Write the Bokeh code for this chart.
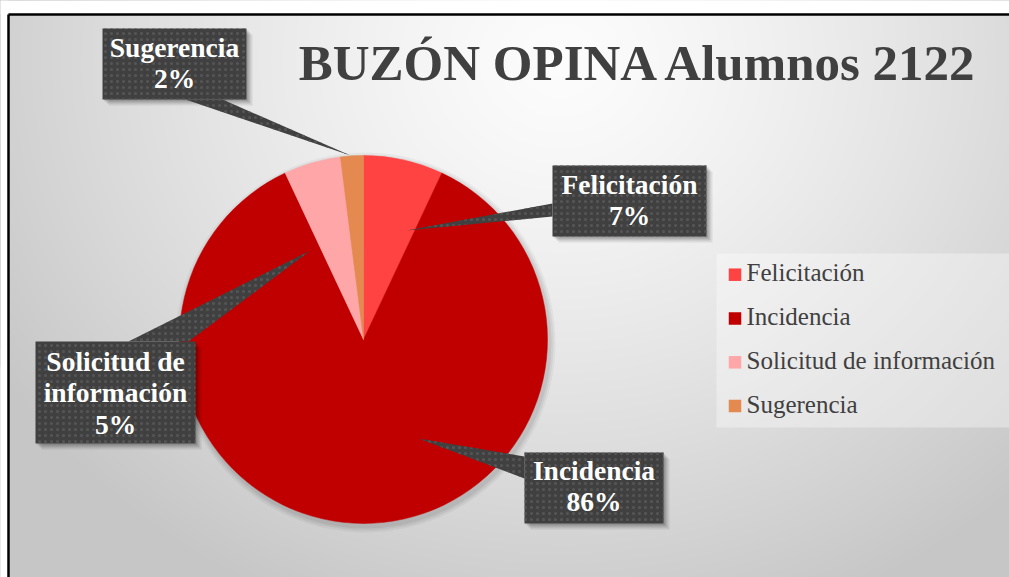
import numpy as np
from bokeh.plotting import figure
from bokeh.models import Range1d, ColumnDataSource
from bokeh.core.properties import value
from bokeh.embed import file_html
from bokeh.resources import INLINE

# ---------------- data ----------------
title = "BUZÓN OPINA Alumnos 2122"
categories = ["Felicitación", "Incidencia", "Solicitud de información", "Sugerencia"]
counts = [7, 86, 5, 2]
colors = ["#FF4343", "#C00000", "#FFA6A8", "#E4894F"]
label_lines = [["Felicitación"], ["Incidencia"], ["Solicitud de", "información"], ["Sugerencia"]]

# ---------------- layout (screen px) ----------------
W, H = 1009, 577
def Y(s):
    return H - s

FONT = value("Liberation Serif")
BASE_SHIFT = 0.37  # em; raise text so its baseline lands where measured

p = figure(width=W, height=H, x_range=Range1d(0, W), y_range=Range1d(0, H),
           output_backend="svg", toolbar_location=None, min_border=0,
           x_axis_location=None, y_axis_location=None)
p.grid.visible = False
p.outline_line_color = None
p.background_fill_color = "#c6c6c6"
p.border_fill_color = "white"

# radial background gradient built from stacked ellipses
x0, top0 = 8, 14
gcx, gcy = 560, 60
levels = np.arange(199, 253)
radii = 660 * ((252 - levels + 0.5) / 54.0) ** (1 / 1.3)
gcol = ["#%02x%02x%02x" % (int(lv), int(lv), int(lv)) for lv in levels]
p.ellipse(x=[gcx] * len(levels), y=[Y(gcy)] * len(levels), width=2 * radii,
          height=2 * radii * 0.9, fill_color=gcol, line_color=None)
# white margin outside the chart area
p.quad(left=[0, 0], right=[W, x0], top=[H, H], bottom=[Y(top0), 0],
       fill_color="white", line_color=None)

# frame
p.multi_line(xs=[[x0, x0], [x0, W]], ys=[[0, Y(top0)], [Y(top0), Y(top0)]],
             line_color="black", line_width=2.5)

# title
TFS = 51
p.text(x=[639], y=[Y(81 - BASE_SHIFT * TFS)], text=[title], text_font=FONT,
       text_font_style="bold", text_font_size=f"{TFS}px", text_color="#404040",
       text_align="center", text_baseline="alphabetic")

# ---------------- pie ----------------
total = float(sum(counts))
fr = np.array(counts) / total
cum = np.concatenate([[0.0], np.cumsum(fr)])
start = np.pi / 2 - cum[:-1] * 2 * np.pi
end = np.pi / 2 - cum[1:] * 2 * np.pi
pct = [f"{round(f * 100):d}%" for f in fr]

cx, cy, r = 363, Y(339), 184
for k, a in [(6, 0.04), (4, 0.05), (2, 0.06)]:
    p.circle(x=cx + 2, y=cy - 3, radius=r + k, fill_color="black", fill_alpha=a, line_color=None)

src = ColumnDataSource(dict(start=start, end=end, color=colors, cat=categories))
p.wedge(x=cx, y=cy, radius=r, start_angle="start", end_angle="end", direction="clock",
        fill_color="color", line_color="color", line_width=0.5, source=src)

# ---------------- data labels (callouts) ----------------
boxes = [
    (552, 706, 165, 236, [(552, 203), (552, 216), (406, 230)], 629, 194),
    (524, 663, 452, 523, [(524, 456), (524, 478), (418, 438)], 593.5, 480),
    (35, 195, 341, 443, [(128, 341), (188, 341), (310, 250)], 115, 371),
    (102, 246, 28, 99, [(185, 99), (222, 99), (350, 155)], 174, 57),
]
LINE = 31.5
LFS = 27.5
for i, (l, rr, t, b, poly, tx, ty) in enumerate(boxes):
    for off, a in [(6, 0.08), (4, 0.12), (2, 0.15)]:
        p.quad(left=[l + off], right=[rr + off], top=[Y(t + off)], bottom=[Y(b + off)],
               fill_color="black", fill_alpha=a, line_color=None)
    p.patch(x=[q[0] for q in poly], y=[Y(q[1]) for q in poly], fill_color="#404040",
            line_color=None, hatch_pattern="dot", hatch_color="#555555", hatch_scale=6,
            hatch_weight=1.2)
    p.quad(left=[l], right=[rr], top=[Y(t)], bottom=[Y(b)], fill_color="#404040",
           line_color=None, hatch_pattern="dot", hatch_color="#555555", hatch_scale=6,
           hatch_weight=1.2)
    lines = label_lines[i] + [pct[i]]
    p.text(x=[tx] * len(lines),
           y=[Y(ty + LINE * j - BASE_SHIFT * LFS) for j in range(len(lines))], text=lines,
           text_font=FONT, text_font_style="bold", text_font_size=f"{LFS}px",
           text_color="white", text_align="center", text_baseline="alphabetic")

# ---------------- legend ----------------
p.quad(left=[716], right=[W], top=[Y(253)], bottom=[Y(427)], fill_color="white",
       fill_alpha=0.35, line_color=None)
leg_base = [281.7, 325.5, 369.3, 413]
GFS = 25
p.scatter(x=[734.5] * 4, y=[Y(b - 7.5) for b in leg_base], marker="square", size=12.5,
          fill_color=colors, line_color=None)
p.text(x=[746] * 4, y=[Y(b - BASE_SHIFT * GFS) for b in leg_base], text=categories,
       text_font=FONT, text_font_size=f"{GFS}px", text_color="#404040", text_align="left",
       text_baseline="alphabetic")

html = file_html(p, INLINE)
html = html.replace("<head>", "<head><style>html,body{margin:0;padding:0;overflow:hidden}</style>", 1)
open("out.html", "w").write(html)
